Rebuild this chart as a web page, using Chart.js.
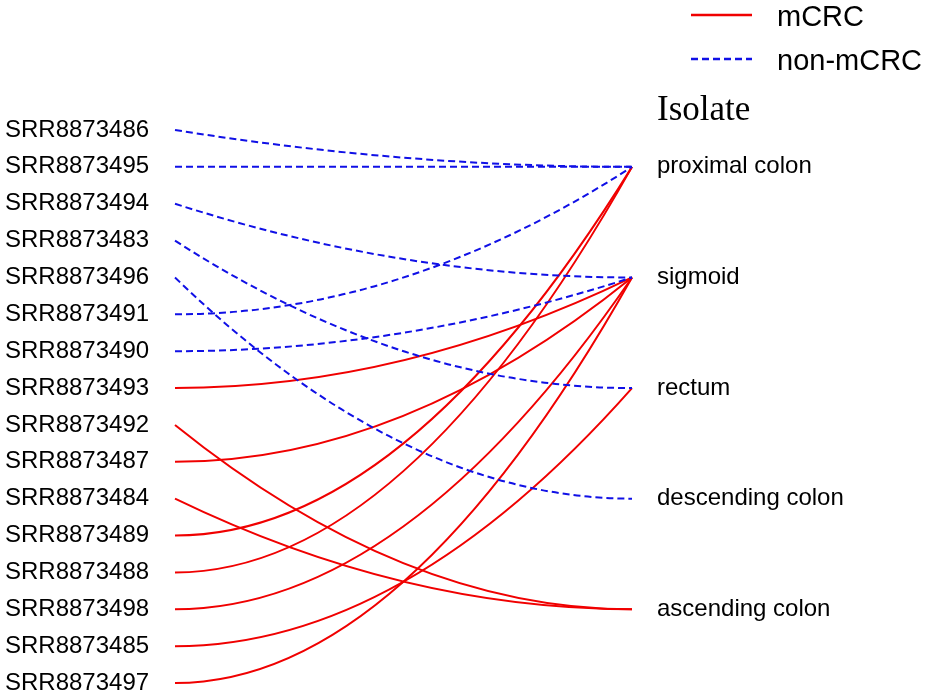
<!DOCTYPE html>
<html>
<head>
<meta charset="utf-8">
<script src="https://cdn.jsdelivr.net/npm/chart.js@4"></script>
<style>
  html, body { margin: 0; padding: 0; background: #fff; }
  #wrap { width: 935px; height: 696px; position: relative; }
</style>
</head>
<body>
<div id="wrap"><canvas id="chart"></canvas></div>
<script>
// samples, top to bottom
const samples = [
  'SRR8873486', 'SRR8873495', 'SRR8873494', 'SRR8873483', 'SRR8873496',
  'SRR8873491', 'SRR8873490', 'SRR8873493', 'SRR8873492', 'SRR8873487',
  'SRR8873484', 'SRR8873489', 'SRR8873488', 'SRR8873498', 'SRR8873485',
  'SRR8873497'
];
const groups = [
  'non-mCRC', 'non-mCRC', 'non-mCRC', 'non-mCRC', 'non-mCRC',
  'non-mCRC', 'non-mCRC', 'mCRC', 'mCRC', 'mCRC',
  'mCRC', 'mCRC', 'mCRC', 'mCRC', 'mCRC',
  'mCRC'
];
const isolateOf = [
  'proximal colon', 'proximal colon', 'sigmoid', 'rectum', 'descending colon',
  'proximal colon', 'sigmoid', 'sigmoid', 'ascending colon', 'sigmoid',
  'ascending colon', 'proximal colon', 'proximal colon', 'sigmoid', 'rectum',
  'sigmoid'
];
const isolates = ['proximal colon', 'sigmoid', 'rectum', 'descending colon', 'ascending colon'];
const legendGroups = ['mCRC', 'non-mCRC'];

const styles = {
  'mCRC': { color: '#f00000', dash: [] },
  'non-mCRC': { color: '#1010e6', dash: [7, 4] }
};
const FONT = "Arial, 'Liberation Sans', sans-serif";

// isolates sit on every third sample row, starting at the second
const isolatePos = name => isolates.indexOf(name) * 3 + 1;

const datasets = samples.map((s, i) => ({
  label: s,
  group: groups[i],
  data: [{ x: 0, y: i }, { x: 1, y: isolatePos(isolateOf[i]) }],
  borderColor: styles[groups[i]].color,
  borderDash: styles[groups[i]].dash,
  borderWidth: 2,
  pointRadius: 0,
  fill: false
}));

// draw each link as a curve between its two points
const curvedLinks = {
  id: 'curvedLinks',
  beforeDatasetDraw(chart, args) {
    const ds = chart.data.datasets[args.index];
    const pts = args.meta.data;
    if (pts.length < 2) return;
    const a = pts[0], b = pts[1];
    const ctx = chart.ctx;
    ctx.save();
    ctx.strokeStyle = ds.borderColor;
    ctx.lineWidth = ds.borderWidth;
    ctx.setLineDash(ds.borderDash || []);
    ctx.beginPath();
    ctx.moveTo(a.x, a.y);
    ctx.quadraticCurveTo((a.x + b.x) / 2, Math.max(a.y, b.y), b.x, b.y);
    ctx.stroke();
    ctx.restore();
    return false;
  }
};

const legendAndTitle = {
  id: 'legendAndTitle',
  afterDraw(chart) {
    const ctx = chart.ctx;
    ctx.save();
    legendGroups.forEach((g, i) => {
      const y = 15 + i * 44;
      ctx.strokeStyle = styles[g].color;
      ctx.lineWidth = 2.5;
      ctx.setLineDash(styles[g].dash);
      ctx.beginPath();
      ctx.moveTo(691, y);
      ctx.lineTo(752, y);
      ctx.stroke();
      ctx.setLineDash([]);
      ctx.fillStyle = '#000';
      ctx.font = '29px ' + FONT;
      ctx.textBaseline = 'alphabetic';
      ctx.textAlign = 'left';
      ctx.fillText(g, 777, y + 11);
    });
    ctx.font = "35px 'Times New Roman', 'Liberation Serif', serif";
    ctx.fillText('Isolate', 657, 120);
    ctx.restore();
  }
};

// keep the plot rows fixed regardless of label sizes
const noPad = scale => { scale.paddingTop = 0; scale.paddingBottom = 0; };

new Chart(document.getElementById('chart'), {
  type: 'line',
  data: { datasets },
  plugins: [curvedLinks, legendAndTitle],
  options: {
    responsive: true,
    maintainAspectRatio: false,
    animation: false,
    layout: { padding: { top: 130, bottom: 13, left: 5, right: 0 } },
    scales: {
      x: {
        type: 'linear',
        min: 0,
        max: 1,
        display: false
      },
      y: {
        type: 'linear',
        position: 'left',
        reverse: true,
        min: 0,
        max: samples.length - 1,
        grid: { display: false, drawTicks: false },
        border: { display: false },
        afterFit(scale) { scale.width = 170; noPad(scale); },
        ticks: {
          stepSize: 1,
          autoSkip: false,
          crossAlign: 'far',
          color: '#000',
          font: { family: FONT, size: 24, lineHeight: 1 },
          callback: v => samples[v]
        }
      },
      y2: {
        type: 'linear',
        position: 'right',
        reverse: true,
        min: 0,
        max: samples.length - 1,
        grid: { display: false, drawTicks: false },
        border: { display: false },
        afterFit(scale) { scale.width = 303; noPad(scale); },
        afterBuildTicks(scale) {
          scale.ticks = isolates.map(n => ({ value: isolatePos(n) }));
        },
        ticks: {
          padding: 25,
          autoSkip: false,
          color: '#000',
          font: { family: FONT, size: 24, lineHeight: 1 },
          callback: v => isolates.find(n => isolatePos(n) === v)
        }
      }
    },
    plugins: {
      legend: { display: false },
      tooltip: { enabled: false }
    }
  }
});
</script>
</body>
</html>
